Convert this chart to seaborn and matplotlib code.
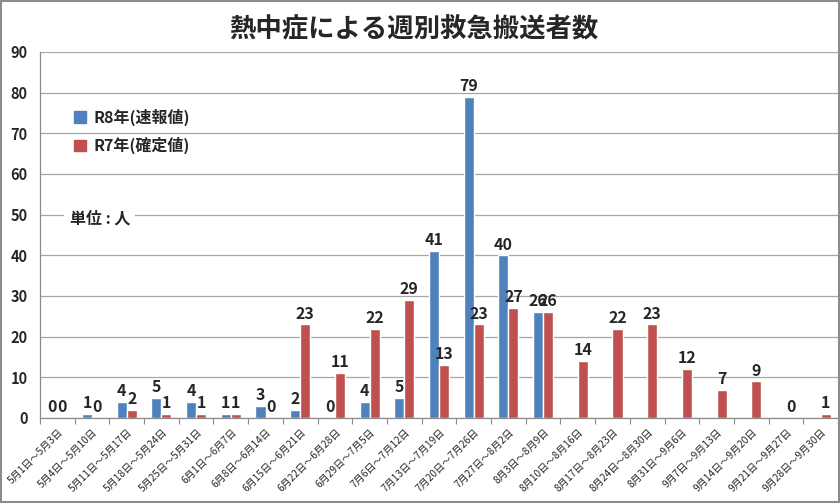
import numpy as np
import pandas as pd
import seaborn as sns
from matplotlib import pyplot as plt
from matplotlib.patches import Rectangle, Patch
from matplotlib.transforms import ScaledTranslation

weeks = ['5月1日～5月3日', '5月4日～5月10日', '5月11日～5月17日', '5月18日～5月24日',
         '5月25日～5月31日', '6月1日～6月7日', '6月8日～6月14日', '6月15日～6月21日',
         '6月22日～6月28日', '6月29日～7月5日', '7月6日～7月12日', '7月13日～7月19日',
         '7月20日～7月26日', '7月27日～8月2日', '8月3日～8月9日', '8月10日～8月16日',
         '8月17日～8月23日', '8月24日～8月30日', '8月31日～9月6日', '9月7日～9月13日',
         '9月14日～9月20日', '9月21日～9月27日', '9月28日～9月30日']

# R8 only reported up to 8/9
r8 = [0, 1, 4, 5, 4, 1, 3, 2, 0, 4, 5, 41, 79, 40, 26]
r7 = [0, 0, 2, 1, 1, 1, 0, 23, 11, 22, 29, 13, 23, 27, 26, 14, 22, 23, 12, 7, 9, 0, 1]

series = ['R8年(速報値)', 'R7年(確定値)']
colors = ['#4F81BD', '#C0504D']

df = pd.concat([
    pd.DataFrame({'week': weeks[:len(r8)], 'count': r8, 'series': series[0]}),
    pd.DataFrame({'week': weeks, 'count': r7, 'series': series[1]}),
])

sns.set_theme(style='white')
plt.rcParams['font.family'] = ['Noto Sans CJK JP', 'DejaVu Sans']

fig = plt.figure(figsize=(8.4, 5.03), dpi=100)
ax = fig.add_axes([40 / 840, 1 - 418 / 503, 798 / 840, 366 / 503])

sns.barplot(data=df, x='week', y='count', hue='series', order=weeks,
            hue_order=series, palette=colors, width=0.58, gap=0,
            saturation=1, ax=ax, legend=False, errorbar=None)

for c in ax.containers:
    ax.bar_label(c, fmt='%d', padding=2, fontsize=11.5, fontweight='bold')

ax.set_ylim(0, 90)
ax.set_yticks(np.arange(0, 91, 10))
ax.set_xlim(-0.5, len(weeks) - 0.5)
ax.set_xlabel('')
ax.set_ylabel('')
ax.yaxis.grid(True, color='#A6A6A6', lw=0.9)
ax.set_axisbelow(True)
for s in ['top', 'right']:
    ax.spines[s].set_visible(False)
for s in ['left', 'bottom']:
    ax.spines[s].set_color('#8C8C8C')
    ax.spines[s].set_linewidth(0.9)

ax.tick_params(axis='y', length=0, pad=9, labelsize=10.5)
for t in ax.get_yticklabels():
    t.set_fontweight('bold')
ax.set_xticks(range(len(weeks)))
ax.set_xticklabels(weeks, rotation=45, ha='right', va='center',
                   rotation_mode='anchor', fontsize=7.3)
ax.tick_params(axis='x', which='major', length=0, pad=9)
shift = ScaledTranslation(4 / 100, 0, fig.dpi_scale_trans)
for t in ax.get_xticklabels():
    t.set_transform(t.get_transform() + shift)
ax.set_xticks(np.arange(-0.5, len(weeks), 1), minor=True)
ax.tick_params(axis='x', which='minor', length=4, color='#8C8C8C', width=0.8, bottom=True)

handles = [Patch(color=col) for col in colors]
ax.legend(handles, series, loc='upper left', bbox_to_anchor=(0.025, 0.885), frameon=False,
          handlelength=0.7, handleheight=0.7, handletextpad=0.5, labelspacing=0.7,
          prop={'weight': 'bold', 'size': 11.5})

ax.text(0.037, 0.545, '単位 : 人', transform=ax.transAxes, fontsize=11.5, fontweight='bold',
        va='center', ha='left', bbox=dict(facecolor='white', edgecolor='none', pad=4))

fig.text(0.493, 0.94, '熱中症による週別救急搬送者数', ha='center', va='center',
         fontsize=19, fontweight='bold')

fig.patches.append(Rectangle((0.001, 0.001), 0.998, 0.997, transform=fig.transFigure,
                             fill=False, edgecolor='#8C8C8C', lw=1.5))

fig.savefig('out.png', dpi=100)
